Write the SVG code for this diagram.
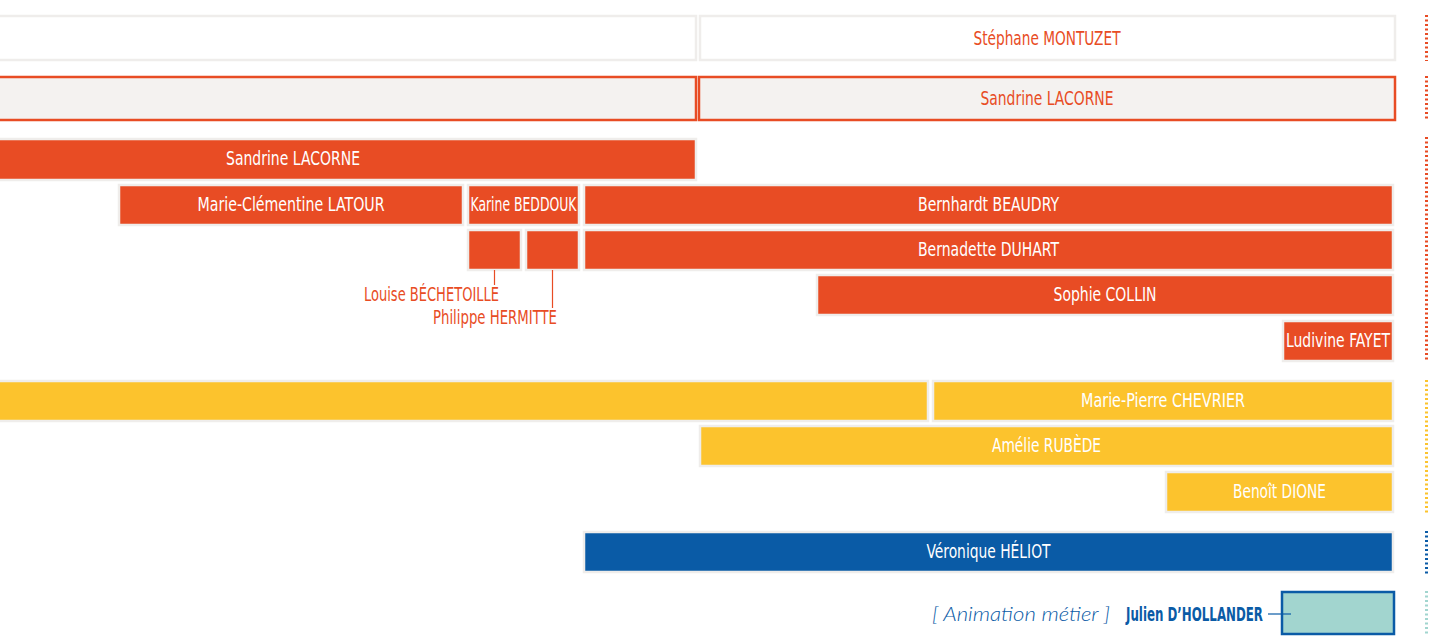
<svg xmlns="http://www.w3.org/2000/svg" width="1429" height="641" viewBox="0 0 1429 641">
<style>
.t{font-family:"DejaVu Sans Condensed","DejaVu Sans","Liberation Sans",sans-serif;font-size:19px;text-anchor:middle}
.w{fill:#ffffff}
.ot{fill:#e84c24}
.org{fill:#e84c24;stroke:#efedeb;stroke-width:2.5}
.yel{fill:#fcc32d;stroke:#efedeb;stroke-width:2.5}
.blu{fill:#0a5ba6;stroke:#efedeb;stroke-width:2.5}
.dot{fill:none;stroke-width:3;stroke-dasharray:2 2.5}
</style>
<rect width="1429" height="641" fill="#ffffff"/>
<g id="row-montuzet-left"><rect x="-2" y="16" width="698" height="44" fill="#ffffff" stroke="#efedeb" stroke-width="2.5"/></g>
<g id="montuzet"><rect x="700" y="16" width="695" height="44" fill="#ffffff" stroke="#efedeb" stroke-width="2.5"/><text class="t ot" x="1047" y="45" textLength="147" lengthAdjust="spacingAndGlyphs">Stéphane MONTUZET</text></g>
<g id="lacorne-left"><rect x="-2" y="77" width="698" height="43" fill="#f4f2f0" stroke="#e84c24" stroke-width="2.5"/></g>
<g id="lacorne-right"><rect x="699" y="77" width="696" height="43" fill="#f4f2f0" stroke="#e84c24" stroke-width="2.5"/><text class="t ot" x="1047" y="105" textLength="133" lengthAdjust="spacingAndGlyphs">Sandrine LACORNE</text></g>
<g id="lacorne-bar"><rect class="org" x="-2" y="139" width="698" height="41"/><text class="t w" x="293" y="165" textLength="134" lengthAdjust="spacingAndGlyphs">Sandrine LACORNE</text></g>
<g id="latour"><rect class="org" x="119" y="185" width="344" height="40"/><text class="t w" x="291" y="211" textLength="187" lengthAdjust="spacingAndGlyphs">Marie-Clémentine LATOUR</text></g>
<g id="beddouk"><rect class="org" x="468" y="185" width="111" height="40"/><text class="t w" x="523.5" y="211" textLength="106" lengthAdjust="spacingAndGlyphs">Karine BEDDOUK</text></g>
<g id="beaudry"><rect class="org" x="584" y="185" width="809" height="40"/><text class="t w" x="988.5" y="211" textLength="141" lengthAdjust="spacingAndGlyphs">Bernhardt BEAUDRY</text></g>
<g id="bechetoille-box"><rect class="org" x="468" y="230" width="53" height="40"/></g>
<g id="hermitte-box"><rect class="org" x="526" y="230" width="53" height="40"/></g>
<g id="duhart"><rect class="org" x="584" y="230" width="809" height="40"/><text class="t w" x="988.5" y="256" textLength="141" lengthAdjust="spacingAndGlyphs">Bernadette DUHART</text></g>
<g id="collin"><rect class="org" x="817" y="275" width="576" height="40"/><text class="t w" x="1105" y="301" textLength="103" lengthAdjust="spacingAndGlyphs">Sophie COLLIN</text></g>
<g id="fayet"><rect class="org" x="1283" y="321" width="110" height="40"/><text class="t w" x="1338" y="347" textLength="104" lengthAdjust="spacingAndGlyphs">Ludivine FAYET</text></g>
<g id="bechetoille-label"><text class="t ot" x="431.5" y="301" textLength="135" lengthAdjust="spacingAndGlyphs">Louise BÉCHETOILLE</text></g>
<g id="hermitte-label"><text class="t ot" x="495" y="324" textLength="124" lengthAdjust="spacingAndGlyphs">Philippe HERMITTE</text></g>
<g id="yellow-left"><rect class="yel" x="-2" y="381" width="930" height="40"/></g>
<g id="chevrier"><rect class="yel" x="933" y="381" width="460" height="40"/><text class="t w" x="1163" y="407" textLength="164" lengthAdjust="spacingAndGlyphs">Marie-Pierre CHEVRIER</text></g>
<g id="rubede"><rect class="yel" x="700" y="426" width="693" height="40"/><text class="t w" x="1046.5" y="452" textLength="109" lengthAdjust="spacingAndGlyphs">Amélie RUBÈDE</text></g>
<g id="dione"><rect class="yel" x="1166" y="472" width="227" height="40"/><text class="t w" x="1279.5" y="498" textLength="93" lengthAdjust="spacingAndGlyphs">Benoît DIONE</text></g>
<g id="heliot"><rect class="blu" x="584" y="532" width="809" height="40"/><text class="t w" x="988.5" y="558" textLength="124" lengthAdjust="spacingAndGlyphs">Véronique HÉLIOT</text></g>
<g id="animation-label"><text x="1021" y="621" font-family="Lato,'Open Sans',sans-serif" font-style="italic" font-weight="300" font-size="20" fill="#0a5ba6" text-anchor="middle" textLength="178" lengthAdjust="spacingAndGlyphs">[ Animation métier ]</text></g>
<g id="dhollander"><text class="t" x="1194.5" y="621" fill="#0a5ba6" font-weight="bold" textLength="137" lengthAdjust="spacingAndGlyphs">Julien D’HOLLANDER</text></g>
<g id="dhollander-box"><rect x="1282" y="592" width="112" height="42" fill="#a2d5cf" stroke="#0a5ba6" stroke-width="2.5"/></g>
<g id="connectors" fill="none" stroke-width="1.2">
<line x1="494.5" y1="270" x2="494.5" y2="285" stroke="#e84c24"/>
<line x1="552.5" y1="270" x2="552.5" y2="308" stroke="#e84c24"/>
<line x1="1268" y1="614" x2="1291" y2="614" stroke="#0a5ba6"/>
</g>
<g id="side-markers">
<line class="dot" x1="1426.5" y1="15" x2="1426.5" y2="61" stroke="#e84c24"/>
<line class="dot" x1="1426.5" y1="76" x2="1426.5" y2="121" stroke="#e84c24"/>
<line class="dot" x1="1426.5" y1="137" x2="1426.5" y2="362" stroke="#e84c24"/>
<line class="dot" x1="1426.5" y1="380" x2="1426.5" y2="513" stroke="#fcc32d"/>
<line class="dot" x1="1426.5" y1="531" x2="1426.5" y2="575" stroke="#0a5ba6"/>
<line class="dot" x1="1426.5" y1="591" x2="1426.5" y2="636" stroke="#a2d5cf"/>
</g>
</svg>
